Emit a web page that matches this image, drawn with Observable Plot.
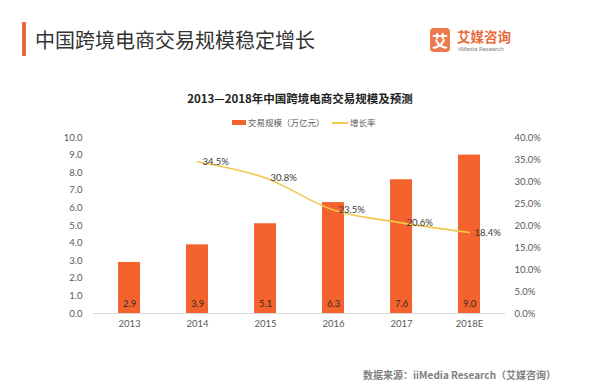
<!DOCTYPE html>
<html><head><meta charset="utf-8">
<script src="https://cdn.jsdelivr.net/npm/d3@7"></script>
<script src="https://cdn.jsdelivr.net/npm/@observablehq/plot@0.6"></script>
<style>
html,body{margin:0;padding:0;background:#fff;width:600px;height:389px;overflow:hidden;font-family:"Noto Sans CJK SC",sans-serif;}
#wrap{position:relative;width:600px;height:389px;}
#chart{position:absolute;left:0;top:0;}
.abs{position:absolute;white-space:nowrap;}
</style></head>
<body><div id="wrap">
<div id="chart"></div>
<div class="abs" style="left:22px;top:22px;width:4px;height:34px;background:#ea6a3c;"></div>
<div class="abs" style="left:35px;top:26px;font-size:20px;line-height:28px;color:#333;">中国跨境电商交易规模稳定增长</div>
<div class="abs" style="left:430px;top:28px;width:20px;height:24px;background:#ed7a4e;border-radius:4px;color:#fff;font-size:16px;line-height:24px;text-align:center;font-weight:bold;">艾</div>
<div class="abs" style="left:457px;top:27px;font-size:13.5px;line-height:18px;color:#ea6a3c;font-weight:bold;">艾媒咨询</div>
<div class="abs" style="left:458px;top:45px;font-size:6px;line-height:8px;color:#888;font-family:Roboto,sans-serif;">iiMedia Research</div>
<div class="abs" style="left:0;width:600px;top:90px;text-align:center;font-size:11.5px;line-height:16px;font-weight:bold;color:#222;">2013—2018年中国跨境电商交易规模及预测</div>
<div class="abs" style="left:232px;top:120px;width:14px;height:5px;background:#f4622d;"></div>
<div class="abs" style="left:248px;top:116px;font-size:8.5px;line-height:12px;color:#595959;">交易规模（万亿元）</div>
<div class="abs" style="left:332px;top:122px;width:16px;height:1.5px;background:#f2c84b;"></div>
<div class="abs" style="left:350px;top:116px;font-size:8.5px;line-height:12px;color:#595959;">增长率</div>
<div class="abs" style="left:363px;top:368px;font-size:10px;line-height:14px;color:#7f7f7f;font-weight:bold;">数据来源：iiMedia Research（艾媒咨询）</div>
</div>
<script>
const years = ["2013","2014","2015","2016","2017","2018E"];
const scale = [2.9, 3.9, 5.1, 6.3, 7.6, 9.0];
const rateYears = ["2014","2015","2016","2017","2018E"];
const rates = [34.5, 30.8, 23.5, 20.6, 18.4];
const leftTicks = [0,1,2,3,4,5,6,7,8,9,10];
const rightTicks = [0,5,10,15,20,25,30,35,40];

const bars = years.map((y,i)=>({year:y, value:scale[i]}));
const line = rateYears.map((y,i)=>({year:y, rate:rates[i]}));
const rateToY = r => r/4;

const numFont = "Lato, 'Noto Sans CJK SC', sans-serif";
const chart = Plot.plot({
  width:600, height:389,
  marginTop:137, marginBottom:76, marginLeft:93, marginRight:95,
  style:{fontFamily:numFont, fontSize:"9.5px", color:"#595959", background:"transparent"},
  x:{domain:years, paddingInner:0.68, paddingOuter:0.34, axis:null, label:null},
  y:{domain:[0,10], axis:null, label:null},
  marks:[
    Plot.barY(bars,{x:"year", y:"value", fill:"#f4622d"}),
    Plot.ruleY([0],{stroke:"#d9d9d9", strokeWidth:1}),
    Plot.axisX({tickSize:0, tickPadding:7, fontSize:9.5, fill:"#595959", label:null}),
    Plot.axisY(leftTicks,{anchor:"left", tickSize:0, tickPadding:11, tickFormat:d=>d.toFixed(1), fontSize:9.5, fill:"#595959", label:null}),
    Plot.axisY(rightTicks.map(rateToY),{anchor:"right", tickSize:0, tickPadding:9, tickFormat:d=>(d*4).toFixed(1)+"%", fontSize:9.5, fill:"#595959", label:null}),
    Plot.text(bars,{x:"year", y:0, dy:-10, text:d=>d.value.toFixed(1), fill:"#3a2a20", fontSize:9.5}),
    Plot.line(line,{x:"year", y:d=>rateToY(d.rate), stroke:"#f2c84b", strokeWidth:1.6, curve:"catmull-rom"}),
    Plot.text(line,{x:"year", y:d=>rateToY(d.rate), text:d=>d.rate.toFixed(1)+"%", textAnchor:"start", dx:5, fill:"#3a3a3a", fontSize:9.5})
  ]
});
document.getElementById("chart").appendChild(chart);
</script>
</body></html>
